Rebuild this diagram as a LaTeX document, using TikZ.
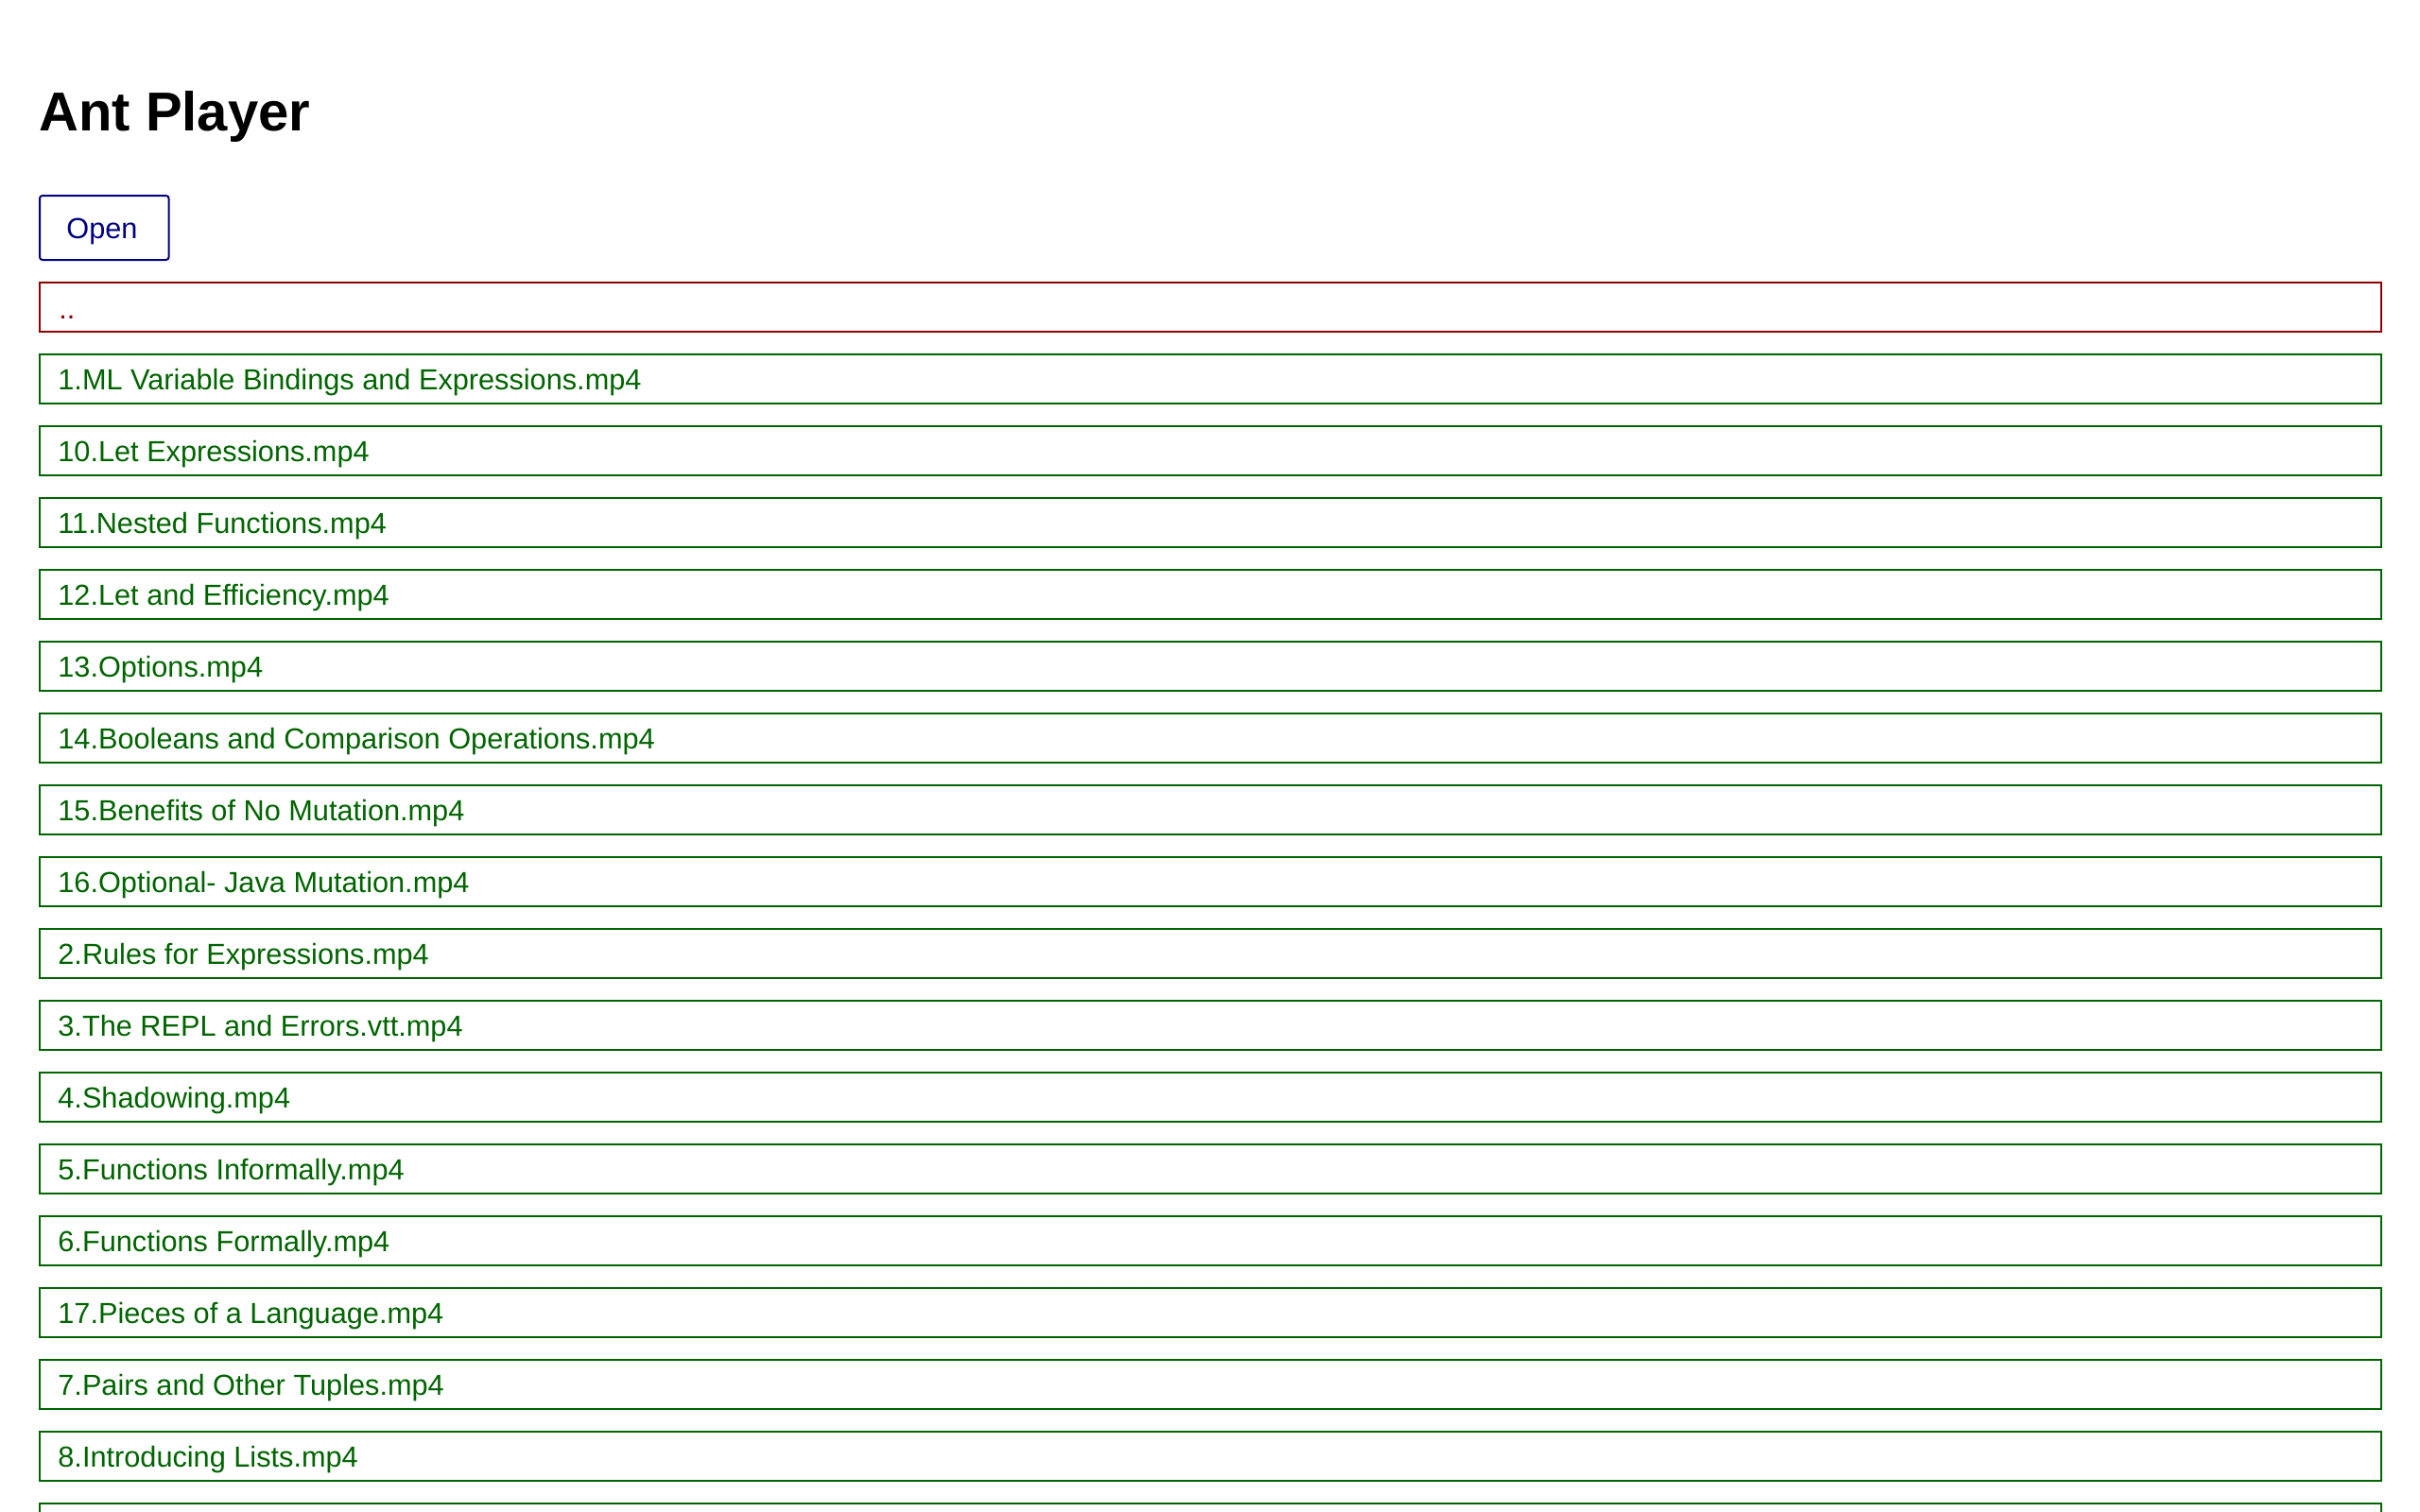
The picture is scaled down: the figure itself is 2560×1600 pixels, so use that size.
\documentclass[tikz,border=0pt]{standalone}
\usepackage{fontspec}
\setmainfont{Liberation Sans}
\definecolor{itemgreen}{HTML}{006400}
\definecolor{itemred}{HTML}{8B0000}
\definecolor{navyblue}{HTML}{000080}
\begin{document}
\begin{tikzpicture}[x=0.5pt,y=-0.5pt,
  itembox/.style={draw, line width=1pt, rectangle, inner sep=0pt, minimum width=1238.5pt, minimum height=26pt, anchor=north west},
  itemtext/.style={anchor=base west, inner sep=0pt, font=\fontsize{15.35pt}{18pt}\selectfont},
  ]
\useasboundingbox (0,0) rectangle (2560,1600);
\clip (0,0) rectangle (2560,1600);
\node[anchor=base west, inner sep=0pt, font=\fontsize{29pt}{34pt}\selectfont\bfseries] (title) at (41,139) {Ant Player};
\node[draw=navyblue, line width=1pt, rounded corners=1.5pt, anchor=north west, minimum width=68.3pt, minimum height=34pt, inner sep=0pt] (openbtn) at (41,206) {};
\node[itemtext, text=navyblue] (opentxt) at (70,252) {Open};
\node[itembox, draw=itemred] (up) at (41,297.7) {};
\node[itemtext, text=itemred] (uptxt) at (62,337) {..};
\foreach \t [count=\i from 0] in {1.ML Variable Bindings and Expressions.mp4, 10.Let Expressions.mp4, 11.Nested Functions.mp4, 12.Let and Efficiency.mp4, 13.Options.mp4, 14.Booleans and Comparison Operations.mp4, 15.Benefits of No Mutation.mp4, 16.Optional- Java Mutation.mp4, 2.Rules for Expressions.mp4, 3.The REPL and Errors.vtt.mp4, 4.Shadowing.mp4, 5.Functions Informally.mp4, 6.Functions Formally.mp4, 17.Pieces of a Language.mp4, 7.Pairs and Other Tuples.mp4, 8.Introducing Lists.mp4}{
  \node[itembox, draw=itemgreen] (box\i) at (41,{374+76*\i}) {};
  \node[itemtext, text=itemgreen] (txt\i) at (61,{412+76*\i}) {\t};
}
\node[itembox, draw=itemgreen] (boxlast) at (41,1590) {};
\end{tikzpicture}
\end{document}
